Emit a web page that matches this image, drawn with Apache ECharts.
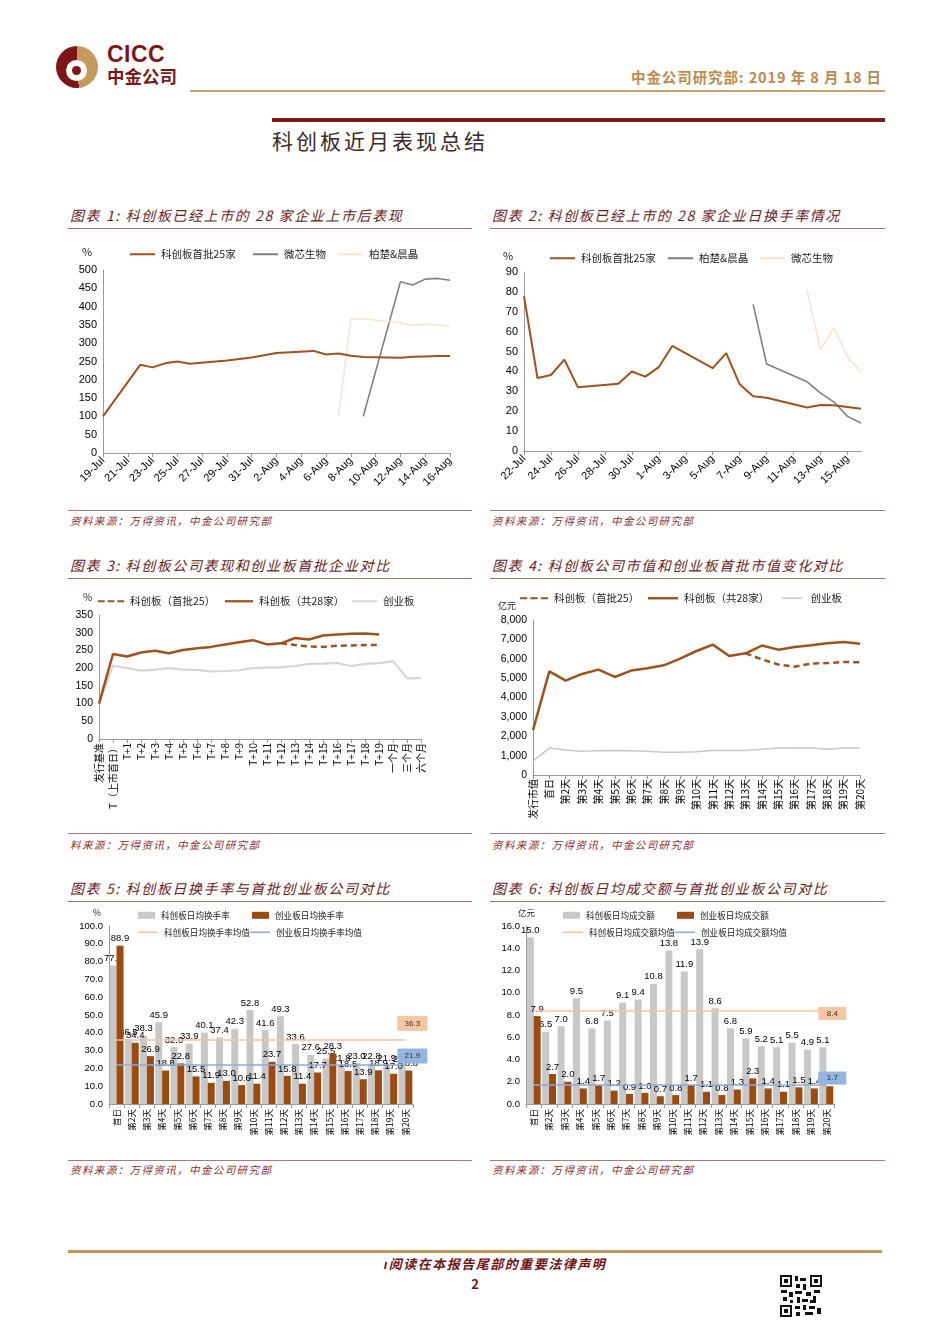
<!DOCTYPE html>
<html><head><meta charset="utf-8">
<script src="https://cdn.jsdelivr.net/npm/echarts@6/dist/echarts.min.js"></script>
<style>
html,body{margin:0;padding:0;background:#fff;}
#page{position:relative;width:950px;height:1344px;overflow:hidden;font-family:"Noto Sans CJK SC","Liberation Sans",sans-serif;}
.a{position:absolute;}
.chart{position:absolute;}
.ttl{position:absolute;font-style:italic;color:#6a1c1c;font-size:14px;line-height:18px;letter-spacing:1.6px;white-space:nowrap;}
.src{position:absolute;font-style:italic;color:#8a2e2e;font-size:10.5px;line-height:14px;letter-spacing:1.4px;white-space:nowrap;}
.uline{position:absolute;height:1px;background:#a86a6a;}
.sline{position:absolute;height:1px;background:#b07878;}
</style>
</head><body>
<div id="page">
  <!-- logo -->
  <div class="a" style="left:56px;top:46px;width:42px;height:42px;border-radius:50%;background:conic-gradient(#c49a5e 0deg 175deg,#7e1618 175deg 360deg);"></div>
  <div class="a" style="left:66px;top:60px;width:21px;height:21px;border-radius:50%;background:#fff;"></div>
  <div class="a" style="left:72px;top:66px;width:9px;height:9px;border-radius:50%;background:#7e1618;"></div>
  <div class="a" style="left:107px;top:42px;font-family:'Liberation Sans',sans-serif;font-weight:bold;font-size:23px;line-height:24px;color:#7e1618;letter-spacing:0.5px;">CICC</div>
  <div class="a" style="left:107px;top:65px;font-weight:bold;font-size:17.5px;line-height:22px;color:#7e1618;">中金公司</div>
  <div class="a" style="right:68px;top:67px;font-weight:bold;font-size:14.5px;line-height:20px;color:#bc8a4c;white-space:nowrap;letter-spacing:0.9px;">中金公司研究部: 2019 年 8 月 18 日</div>
  <div class="a" style="left:190px;top:90px;width:695px;height:2px;background:#c9a46a;"></div>
  <div class="a" style="left:272px;top:118px;width:613px;height:4px;background:#7a1a1a;"></div>
  <div class="a" style="left:272px;top:126px;font-size:21px;line-height:28px;color:#3a2a2a;letter-spacing:3px;">科创板近月表现总结</div>

  <!-- row 1 -->
  <div class="ttl" style="left:70px;top:206px;">图表 1: 科创板已经上市的 28 家企业上市后表现</div>
  <div class="uline" style="left:68px;top:228px;width:404px;"></div>
  <div class="ttl" style="left:492px;top:206px;">图表 2: 科创板已经上市的 28 家企业日换手率情况</div>
  <div class="uline" style="left:490px;top:228px;width:395px;"></div>
  <div class="sline" style="left:68px;top:510px;width:404px;"></div>
  <div class="src" style="left:70px;top:514px;">资料来源：万得资讯，中金公司研究部</div>
  <div class="sline" style="left:490px;top:510px;width:395px;"></div>
  <div class="src" style="left:492px;top:514px;">资料来源：万得资讯，中金公司研究部</div>

  <!-- row 2 -->
  <div class="ttl" style="left:70px;top:556px;">图表 3: 科创板公司表现和创业板首批企业对比</div>
  <div class="uline" style="left:68px;top:578px;width:404px;"></div>
  <div class="ttl" style="left:492px;top:556px;">图表 4: 科创板公司市值和创业板首批市值变化对比</div>
  <div class="uline" style="left:490px;top:578px;width:395px;"></div>
  <div class="sline" style="left:68px;top:833px;width:404px;"></div>
  <div class="src" style="left:70px;top:838px;">料来源：万得资讯，中金公司研究部</div>
  <div class="sline" style="left:490px;top:833px;width:395px;"></div>
  <div class="src" style="left:492px;top:838px;">资料来源：万得资讯，中金公司研究部</div>

  <!-- row 3 -->
  <div class="ttl" style="left:70px;top:879px;">图表 5: 科创板日换手率与首批创业板公司对比</div>
  <div class="uline" style="left:68px;top:901px;width:404px;"></div>
  <div class="ttl" style="left:492px;top:879px;">图表 6: 科创板日均成交额与首批创业板公司对比</div>
  <div class="uline" style="left:490px;top:901px;width:395px;"></div>
  <div class="sline" style="left:68px;top:1160px;width:404px;"></div>
  <div class="src" style="left:70px;top:1163px;">资料来源：万得资讯，中金公司研究部</div>
  <div class="sline" style="left:490px;top:1160px;width:395px;"></div>
  <div class="src" style="left:492px;top:1163px;">资料来源：万得资讯，中金公司研究部</div>

  <!-- footer -->
  <div class="a" style="left:68px;top:1250px;width:814px;height:3px;background:#c09858;"></div>
  <div class="a" style="left:360px;top:1256px;width:270px;text-align:center;font-style:italic;font-weight:bold;font-size:13px;line-height:16px;color:#6e1414;white-space:nowrap;letter-spacing:1.5px;">ı阅读在本报告尾部的重要法律声明</div>
  <div class="a" style="left:465px;top:1276px;width:20px;text-align:center;font-weight:bold;font-size:13px;line-height:16px;color:#6e1414;">2</div>
  <svg class="a" style="left:780px;top:1275px;" width="42" height="42" viewBox="0 0 42 42">
    <rect x="0" y="0" width="12" height="12" fill="#111"/><rect x="2" y="2" width="8" height="8" fill="#fff"/><rect x="4" y="4" width="4" height="4" fill="#111"/>
    <rect x="30" y="0" width="12" height="12" fill="#111"/><rect x="32" y="2" width="8" height="8" fill="#fff"/><rect x="34" y="4" width="4" height="4" fill="#111"/>
    <rect x="0" y="30" width="12" height="12" fill="#111"/><rect x="2" y="32" width="8" height="8" fill="#fff"/><rect x="4" y="34" width="4" height="4" fill="#111"/>
    <rect x="15" y="1" width="3" height="5" fill="#111"/><rect x="20" y="3" width="6" height="3" fill="#111"/><rect x="16" y="9" width="4" height="4" fill="#111"/>
    <rect x="23" y="9" width="3" height="6" fill="#111"/><rect x="1" y="15" width="6" height="3" fill="#111"/><rect x="9" y="17" width="4" height="5" fill="#111"/>
    <rect x="15" y="16" width="7" height="3" fill="#111"/><rect x="26" y="17" width="5" height="4" fill="#111"/><rect x="34" y="15" width="6" height="3" fill="#111"/>
    <rect x="3" y="22" width="4" height="4" fill="#111"/><rect x="17" y="22" width="3" height="6" fill="#111"/><rect x="22" y="24" width="6" height="3" fill="#111"/>
    <rect x="33" y="21" width="3" height="7" fill="#111"/><rect x="15" y="31" width="5" height="3" fill="#111"/><rect x="23" y="30" width="3" height="5" fill="#111"/>
    <rect x="29" y="31" width="6" height="3" fill="#111"/><rect x="37" y="33" width="4" height="6" fill="#111"/><rect x="16" y="37" width="4" height="4" fill="#111"/>
    <rect x="25" y="37" width="8" height="3" fill="#111"/><rect x="30" y="25" width="3" height="3" fill="#111"/><rect x="10" y="25" width="3" height="3" fill="#111"/>
  </svg>

  <div class="chart" id="c1" style="left:60px;top:235px;width:420px;height:275px;"></div>
  <div class="chart" id="c2" style="left:485px;top:235px;width:410px;height:275px;"></div>
  <div class="chart" id="c3" style="left:60px;top:585px;width:420px;height:250px;"></div>
  <div class="chart" id="c4" style="left:485px;top:585px;width:410px;height:250px;"></div>
  <div class="chart" id="c5" style="left:60px;top:900px;width:380px;height:245px;"></div>
  <div class="chart" id="c6" style="left:485px;top:900px;width:380px;height:245px;"></div>
</div>
<script>
// ---------- Chart 1: 上市后表现 (%) ----------
const c1Dates = ['19-Jul','20-Jul','21-Jul','22-Jul','23-Jul','24-Jul','25-Jul','26-Jul','27-Jul','28-Jul','29-Jul','30-Jul','31-Jul','1-Aug','2-Aug','3-Aug','4-Aug','5-Aug','6-Aug','7-Aug','8-Aug','9-Aug','10-Aug','11-Aug','12-Aug','13-Aug','14-Aug','15-Aug','16-Aug'];
const c1First25 = [100,null,null,241,234,245,250,244,null,null,253,257,261,267,273,null,null,279,269,272,266,262,null,null,260,263,264,265,265];
const c1Weixin  = [null,null,null,null,null,null,null,null,null,null,null,null,null,null,null,null,null,null,null,null,null,100,null,null,468,459,475,477,472];
const c1Baichu  = [null,null,null,null,null,null,null,null,null,null,null,null,null,null,null,null,null,null,null,100,366,367,null,null,356,349,352,350,347];
const c1YTicks = [0,50,100,150,200,250,300,350,400,450,500];

// ---------- Chart 2: 日换手率 (%) ----------
const c2Dates = ['22-Jul','23-Jul','24-Jul','25-Jul','26-Jul','27-Jul','28-Jul','29-Jul','30-Jul','31-Jul','1-Aug','2-Aug','3-Aug','4-Aug','5-Aug','6-Aug','7-Aug','8-Aug','9-Aug','10-Aug','11-Aug','12-Aug','13-Aug','14-Aug','15-Aug','16-Aug'];
const c2First25 = [77.8,36.7,38.2,45.9,32.0,null,null,33.8,40.0,37.4,42.2,52.8,null,null,41.7,49.2,33.5,27.5,26.8,null,null,21.9,23.1,23.0,22.1,21.3];
const c2Baichu  = [null,null,null,null,null,null,null,null,null,null,null,null,null,null,null,null,null,73.7,43.7,null,null,34.8,29.1,24.6,17.4,14.1];
const c2Weixin  = [null,null,null,null,null,null,null,null,null,null,null,null,null,null,null,null,null,null,null,null,null,80.7,50.9,62.0,47.2,39.7];

// ---------- Chart 3: 表现对比 (%) ----------
const c3Cats = ['发行基准','T（上市首日）','T+1','T+2','T+3','T+4','T+5','T+6','T+7','T+8','T+9','T+10','T+11','T+12','T+13','T+14','T+15','T+16','T+17','T+18','T+19','一个月','三个月','六个月'];
const c3First25 = [null,null,null,null,null,null,null,null,null,null,null,null,null,270,265,261,260,263,264,265,265,null,null,null];
const c3All28   = [100,240,233,244,249,242,251,256,260,267,273,279,267,270,285,281,292,295,297,298,295,null,null,null];
const c3GEM     = [100,207,200,193,196,200,196,195,191,192,194,200,202,202,206,212,213,215,206,212,214,220,171,172];

// ---------- Chart 4: 市值 (亿元) ----------
const c4Cats = ['发行市值','首日','第2天','第3天','第4天','第5天','第6天','第7天','第8天','第9天','第10天','第11天','第12天','第13天','第14天','第15天','第16天','第17天','第18天','第19天','第20天'];
const c4First25 = [null,null,null,null,null,null,null,null,null,null,null,null,null,6280,5970,5700,5590,5750,5780,5830,5820];
const c4All28   = [2320,5350,4870,5215,5440,5060,5390,5510,5660,6005,6400,6730,6145,6280,6680,6470,6610,6700,6800,6870,6780];
const c4GEM     = [720,1390,1290,1220,1255,1270,1255,1220,1170,1170,1205,1270,1270,1270,1325,1390,1390,1410,1325,1390,1390];

// ---------- Chart 5: 日均换手率 (%) ----------
const dayCats = ['首日','第2天','第3天','第4天','第5天','第6天','第7天','第8天','第9天','第10天','第11天','第12天','第13天','第14天','第15天','第16天','第17天','第18天','第19天','第20天'];
const c5KCB = [77.8,36.5,38.3,45.9,32.0,33.9,40.1,37.4,42.3,52.8,41.6,49.3,33.6,27.6,25.5,21.8,23.0,22.8,21.9,21.3];
const c5GEM = [88.9,34.4,26.9,18.8,22.8,15.5,11.9,13.0,10.6,11.4,23.7,15.8,11.4,17.7,28.3,18.5,13.9,18.9,17.0,18.8];
const c5MeanKCB = 36.3;
const c5MeanGEM = 21.9;

// ---------- Chart 6: 日均成交额 (亿元) ----------
const c6KCB = [15.0,6.5,7.0,9.5,6.8,7.5,9.1,9.4,10.8,13.8,11.9,13.9,8.6,6.8,5.9,5.2,5.1,5.5,4.9,5.1];
const c6GEM = [7.9,2.7,2.0,1.4,1.7,1.2,0.9,1.0,0.7,0.8,1.7,1.1,0.8,1.3,2.3,1.4,1.1,1.5,1.4,1.6];
const c6MeanKCB = 8.4;
const c6MeanGEM = 1.7;

// ---------- styles ----------
const NUMF = '"Liberation Sans", Arial, sans-serif';
const CJKF = '"Noto Sans CJK SC", sans-serif';
const BROWN = '#a0521c';
const BAR_BROWN = '#9c4a10';
const GRAY = '#808080';
const PINK = '#fbe3d3';
const LGRAY = '#d6d6d6';
const BAR_GRAY = '#c8c8c8';
const MEAN_OR = '#f6c3a0';
const MEAN_BL = '#8faad8';
const ICON_LINE = 'path://M0,0H25V2H0Z';
const ICON_DASH = 'path://M0,0H7V2H0Z M10,0H17V2H10Z M20,0H27V2H20Z';

function legendItem(name, left, top, extra) {
  const o = Object.assign({
    icon: ICON_LINE, left: left, top: top, itemWidth: 25, itemHeight: 2.2, itemGap: 0,
    padding: 0, selectedMode: false, fs: 10.5
  }, extra || {});
  return {
    data: [{name: name, icon: o.icon}], left: o.left, top: o.top,
    itemWidth: o.itemWidth, itemHeight: o.itemHeight, itemGap: 0, padding: 0, selectedMode: false,
    textStyle: {fontFamily: CJKF, fontSize: o.fs, color: '#222', padding: [0,0,0,1]}
  };
}
function yAxisBase(min, max, interval, fmt, fs) {
  return {
    type: 'value', min: min, max: max, interval: interval,
    axisLine: {show: true, lineStyle: {color: '#9a9a9a', width: 1}},
    axisTick: {show: false}, splitLine: {show: false},
    axisLabel: {color: '#000', fontFamily: NUMF, fontSize: fs || 11, margin: 6, formatter: fmt}
  };
}
function lineS(name, data, color, width, dashed, z) {
  return {
    type: 'line', name: name, data: data, symbol: 'none', connectNulls: true,
    lineStyle: {color: color, width: width, type: dashed ? [6,4] : 'solid'},
    itemStyle: {color: color}, z: z || 2, animation: false
  };
}
function textG(text, left, top, fs) {
  return {type: 'text', left: left, top: top, style: {text: text, fontFamily: CJKF, fontSize: fs || 10, fill: '#222'}};
}

// Chart 1
echarts.init(document.getElementById('c1')).setOption({
  animation: false,
  grid: {left: 43, top: 35, width: 347, height: 183},
  graphic: [textG('%', 22, 11, 11)],
  legend: [
    legendItem('科创板首批25家', 70, 14),
    legendItem('微芯生物', 193, 14),
    legendItem('柏楚&晨晶', 278, 14)
  ],
  xAxis: {
    type: 'category', data: c1Dates, boundaryGap: false,
    axisLine: {lineStyle: {color: '#9a9a9a'}},
    axisTick: {show: true, interval: 1, length: 4, lineStyle: {color: '#9a9a9a'}},
    axisLabel: {interval: 1, rotate: 45, color: '#000', fontFamily: NUMF, fontSize: 11, margin: 6}
  },
  yAxis: yAxisBase(c1YTicks[0], c1YTicks[c1YTicks.length-1], 50),
  series: [
    lineS('科创板首批25家', c1First25, BROWN, 2, false, 3),
    lineS('微芯生物', c1Weixin, GRAY, 1.6, false, 2),
    lineS('柏楚&晨晶', c1Baichu, PINK, 1.6, false, 2)
  ]
});

// Chart 2
echarts.init(document.getElementById('c2')).setOption({
  animation: false,
  grid: {left: 39, top: 37, width: 337, height: 179},
  graphic: [textG('%', 18, 15, 11)],
  legend: [
    legendItem('科创板首批25家', 65, 18),
    legendItem('柏楚&晨晶', 183, 18),
    legendItem('微芯生物', 275, 18)
  ],
  xAxis: {
    type: 'category', data: c2Dates, boundaryGap: false,
    axisLine: {lineStyle: {color: '#9a9a9a'}},
    axisTick: {show: true, interval: 1, length: 4, lineStyle: {color: '#9a9a9a'}},
    axisLabel: {interval: 1, rotate: 45, color: '#000', fontFamily: NUMF, fontSize: 11, margin: 6}
  },
  yAxis: yAxisBase(0, 90, 10),
  series: [
    lineS('科创板首批25家', c2First25, BROWN, 2, false, 3),
    lineS('柏楚&晨晶', c2Baichu, GRAY, 1.6, false, 2),
    lineS('微芯生物', c2Weixin, PINK, 1.6, false, 2)
  ]
});

// Chart 3
echarts.init(document.getElementById('c3')).setOption({
  animation: false,
  grid: {left: 39, top: 30, width: 322, height: 124},
  graphic: [textG('%', 23, 7, 10)],
  legend: [
    legendItem('科创板（首批25）', 38, 11, {icon: ICON_DASH, itemWidth: 26, itemHeight: 2.6}),
    legendItem('科创板（共28家）', 165, 11, {itemWidth: 28, itemHeight: 2.6}),
    legendItem('创业板', 292, 11, {itemHeight: 2.4})
  ],
  xAxis: {
    type: 'category', data: c3Cats, boundaryGap: false,
    axisLine: {lineStyle: {color: '#9a9a9a'}},
    axisTick: {show: true, interval: 0, length: 4, lineStyle: {color: '#9a9a9a'}},
    axisLabel: {interval: 0, rotate: 90, color: '#000', fontFamily: CJKF, fontSize: 10, margin: 4}
  },
  yAxis: yAxisBase(0, 350, 50, null, 10.5),
  series: [
    lineS('科创板（首批25）', c3First25, BROWN, 2.5, true, 2),
    lineS('科创板（共28家）', c3All28, BROWN, 2.5, false, 3),
    lineS('创业板', c3GEM, LGRAY, 2.2, false, 1)
  ]
});

// Chart 4
echarts.init(document.getElementById('c4')).setOption({
  animation: false,
  grid: {left: 48, top: 35, width: 327, height: 155},
  graphic: [textG('亿元', 13, 16, 9)],
  legend: [
    legendItem('科创板（首批25）', 35, 8, {icon: ICON_DASH, itemWidth: 28, itemHeight: 2.6}),
    legendItem('科创板（共28家）', 163, 8, {itemWidth: 30, itemHeight: 2.6}),
    legendItem('创业板', 297, 8, {itemHeight: 1.6})
  ],
  xAxis: {
    type: 'category', data: c4Cats, boundaryGap: false,
    axisLine: {lineStyle: {color: '#9a9a9a'}},
    axisTick: {show: true, interval: 0, length: 4, lineStyle: {color: '#9a9a9a'}},
    axisLabel: {interval: 0, rotate: 90, color: '#000', fontFamily: CJKF, fontSize: 10, margin: 4}
  },
  yAxis: yAxisBase(0, 8000, 1000, v => v.toLocaleString('en-US'), 10.5),
  series: [
    lineS('科创板（首批25）', c4First25, BROWN, 2.5, true, 2),
    lineS('科创板（共28家）', c4All28, BROWN, 2.5, false, 3),
    lineS('创业板', c4GEM, '#c8c8c8', 1.5, false, 1)
  ]
});

// Bar chart builder (charts 5 & 6)
function barChart(el, cfg) {
  const lbl = {show: true, position: 'top', distance: 2, color: '#000', fontFamily: NUMF, fontSize: 9.5,
               formatter: p => Number(p.value).toFixed(1)};
  function meanSeries(name, val, color, boxColor, boxSize, boxOffset) {
    return {
      type: 'line', name: name, data: [], symbol: 'none', z: 10,
      lineStyle: {color: color, width: 1.6}, itemStyle: {color: color},
      markLine: {symbol: 'none', silent: true, animation: false,
        lineStyle: {color: color, width: 1.6, type: 'solid'}, label: {show: false},
        data: [[{coord: [dayCats[0], val]}, {coord: [dayCats[dayCats.length-1], val]}]]},
      markPoint: {silent: true, animation: false,
        data: [{coord: [dayCats[dayCats.length-1], val], symbol: 'rect', symbolSize: boxSize, symbolOffset: boxOffset,
          itemStyle: {color: boxColor},
          label: {show: true, position: 'inside', formatter: val.toFixed(1), color: '#333', fontFamily: NUMF, fontSize: 8}}]}
    };
  }
  echarts.init(document.getElementById(el)).setOption({
    animation: false,
    grid: cfg.grid,
    graphic: [textG(cfg.unit, cfg.unitPos[0], cfg.unitPos[1], 8.5)],
    legend: [
      legendItem(cfg.names[0], 78, 11, {icon: 'rect', itemWidth: 17, itemHeight: 7, fs: 8.6}),
      legendItem(cfg.names[1], 192, 11, {icon: 'rect', itemWidth: 17, itemHeight: 7, fs: 8.6}),
      legendItem(cfg.names[2], 78, 28, {itemWidth: 20, itemHeight: 1.6, fs: 8.6}),
      legendItem(cfg.names[3], 190, 28, {itemWidth: 20, itemHeight: 1.6, fs: 8.6})
    ],
    xAxis: {
      type: 'category', data: dayCats, boundaryGap: true,
      axisLine: {lineStyle: {color: '#9a9a9a'}},
      axisTick: {show: true, length: 4, lineStyle: {color: '#9a9a9a'}},
      axisLabel: {interval: 0, rotate: 90, color: '#000', fontFamily: CJKF, fontSize: 8.5, margin: 5}
    },
    yAxis: yAxisBase(0, cfg.max, cfg.interval, v => v.toFixed(1), 9.5),
    series: [
      {type: 'bar', name: cfg.names[0], data: cfg.kcb, barWidth: 7, barGap: '-2%',
       itemStyle: {color: BAR_GRAY}, label: lbl, z: 2},
      {type: 'bar', name: cfg.names[1], data: cfg.gem, barWidth: 7,
       itemStyle: {color: BAR_BROWN}, label: lbl, z: 3},
      meanSeries(cfg.names[2], cfg.meanKCB, MEAN_OR, '#f7c59f', cfg.boxSize, cfg.offKCB),
      meanSeries(cfg.names[3], cfg.meanGEM, MEAN_BL, '#93b5df', cfg.boxSize, cfg.offGEM)
    ]
  });
}

barChart('c5', {
  grid: {left: 49, top: 26, width: 304, height: 178},
  unit: '%', unitPos: [33, 9],
  names: ['科创板日均换手率', '创业板日均换手率', '科创板日均换手率均值', '创业板日均换手率均值'],
  kcb: c5KCB, gem: c5GEM, meanKCB: c5MeanKCB, meanGEM: c5MeanGEM,
  max: 100, interval: 10, boxSize: [30, 15], offKCB: [7, -16], offGEM: [7, -9]
});
barChart('c6', {
  grid: {left: 41, top: 26, width: 308, height: 178},
  unit: '亿元', unitPos: [33, 9],
  names: ['科创板日均成交额', '创业板日均成交额', '科创板日均成交额均值', '创业板日均成交额均值'],
  kcb: c6KCB, gem: c6GEM, meanKCB: c6MeanKCB, meanGEM: c6MeanGEM,
  max: 16, interval: 2, boxSize: [28, 13], offKCB: [6, 3], offGEM: [6, -7]
});
</script>
</body></html>
